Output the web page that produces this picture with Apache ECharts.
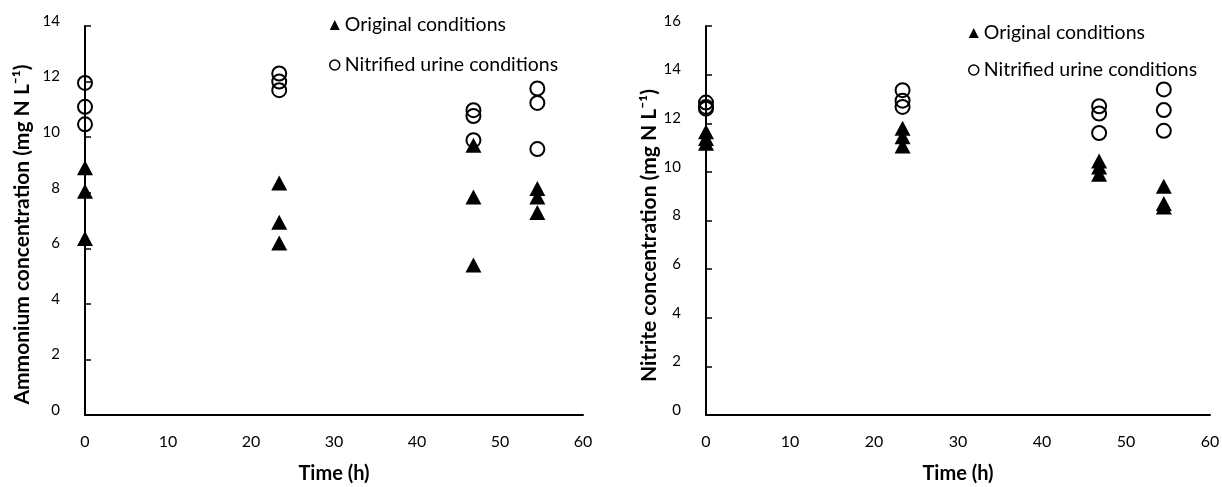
<!DOCTYPE html>
<html>
<head>
<meta charset="utf-8">
<title>Ammonium and nitrite concentrations over time</title>
<script src="https://cdn.jsdelivr.net/npm/echarts@6/dist/echarts.min.js"></script>
<style>
  html, body { margin: 0; padding: 0; background: #fff; }
  #chart { width: 1222px; height: 487px; }
</style>
</head>
<body>
<div id="chart"></div>
<script>
// Sampling times (h)
const sampleTimes = [0, 23.4, 46.8, 54.5];

// Triplicate measurements at each sampling time (mg N L-1)
const ammoniumOriginal = [[8.9, 8.05, 6.35], [8.35, 6.94, 6.19], [9.71, 7.85, 5.4], [8.15, 7.85, 7.29]];
const ammoniumNitrified = [[11.95, 11.09, 10.46], [12.29, 12.0, 11.69], [10.97, 10.76, 9.89], [11.75, 11.23, 9.57]];
const nitriteOriginal = [[11.65, 11.37, 11.18], [11.79, 11.44, 11.06], [10.45, 10.2, 9.9], [9.41, 8.7, 8.56]];
const nitriteNitrified = [[12.85, 12.67, 12.6], [13.36, 12.93, 12.67], [12.7, 12.4, 11.6], [13.39, 12.54, 11.69]];

// Axis settings
const xTicks = [0, 10, 20, 30, 40, 50, 60];
const ammoniumMax = 14;
const nitriteMax = 16;

const seriesNames = ['Original conditions', 'Nitrified urine conditions'];
const xTitle = 'Time (h)';
const ammoniumTitle = 'Ammonium concentration (mg N L\u207B\u00B9)';
const nitriteTitle = 'Nitrite concentration (mg N L\u207B\u00B9)';

function toPoints(groups) {
  const pts = [];
  groups.forEach((vals, i) => vals.forEach(v => pts.push([sampleTimes[i], v])));
  return pts;
}

const FONT = 'Lato, "Open Sans", sans-serif';
const black = '#000';

function xAxisFor(gridIndex) {
  return {
    type: 'value', gridIndex,
    min: xTicks[0], max: xTicks[xTicks.length - 1], interval: 10,
    name: xTitle, nameLocation: 'middle', nameGap: 49,
    nameTextStyle: { fontFamily: FONT, fontWeight: 'bold', fontSize: 20, color: black },
    axisLine: { lineStyle: { color: black, width: 2 } },
    axisTick: { show: false },
    splitLine: { show: false },
    axisLabel: { fontFamily: FONT, fontSize: 16, color: black, margin: 19 }
  };
}

// titlePad pushes the rotated axis title down along the axis
function yAxisFor(gridIndex, max, title, gap, titlePad) {
  return {
    type: 'value', gridIndex,
    min: 0, max, interval: 2,
    name: title, nameLocation: 'middle', nameGap: gap, nameRotate: 90,
    nameTextStyle: { fontFamily: FONT, fontWeight: 'bold', fontSize: 21, color: black, padding: [0, titlePad, 0, 0] },
    axisLine: { show: true, lineStyle: { color: black, width: 2 } },
    axisTick: { show: true, inside: true, length: 6, lineStyle: { color: black, width: 1.5 } },
    splitLine: { show: false },
    // tick labels sit a few pixels above their ticks
    axisLabel: { fontFamily: FONT, fontSize: 15, color: black, margin: 25, verticalAlign: 'bottom', lineHeight: 10 }
  };
}

const triangleStyle = { color: black, opacity: 1 };
const circleStyle = { color: 'rgba(0,0,0,0)', borderColor: black, borderWidth: 2, opacity: 1 };

function seriesFor(idx, original, nitrified) {
  return [
    {
      name: seriesNames[1], type: 'scatter', xAxisIndex: idx, yAxisIndex: idx,
      symbol: 'circle', symbolSize: 14, itemStyle: circleStyle, z: 2,
      data: toPoints(nitrified)
    },
    {
      name: seriesNames[0], type: 'scatter', xAxisIndex: idx, yAxisIndex: idx,
      symbol: 'triangle', symbolSize: [16, 15], itemStyle: triangleStyle, z: 3,
      data: toPoints(original)
    }
  ];
}

function legendFor(left, top, gap) {
  return {
    orient: 'vertical', left, top, itemGap: gap,
    itemWidth: 10, itemHeight: 10,
    data: [
      { name: seriesNames[0], icon: 'triangle', itemStyle: { color: black, opacity: 1 } },
      { name: seriesNames[1], icon: 'circle', itemStyle: { color: '#fff', borderColor: black, borderWidth: 1.5, opacity: 1 } }
    ],
    textStyle: { fontFamily: FONT, fontSize: 19.5, color: black }
  };
}

const chart = echarts.init(document.getElementById('chart'), null, { renderer: 'canvas' });
chart.setOption({
  animation: false,
  backgroundColor: '#fff',
  grid: [
    { left: 85, right: 639, top: 26, bottom: 72, outerBoundsMode: 'none' },
    { left: 706, right: 12, top: 26, bottom: 72, outerBoundsMode: 'none' }
  ],
  xAxis: [xAxisFor(0), xAxisFor(1)],
  yAxis: [
    yAxisFor(0, ammoniumMax, ammoniumTitle, 52, 28),
    yAxisFor(1, nitriteMax, nitriteTitle, 45, 30)
  ],
  legend: [legendFor(324, 10, 20), legendFor(963, 18, 17)],
  series: [
    ...seriesFor(0, ammoniumOriginal, ammoniumNitrified),
    ...seriesFor(1, nitriteOriginal, nitriteNitrified)
  ]
});
</script>
</body>
</html>
